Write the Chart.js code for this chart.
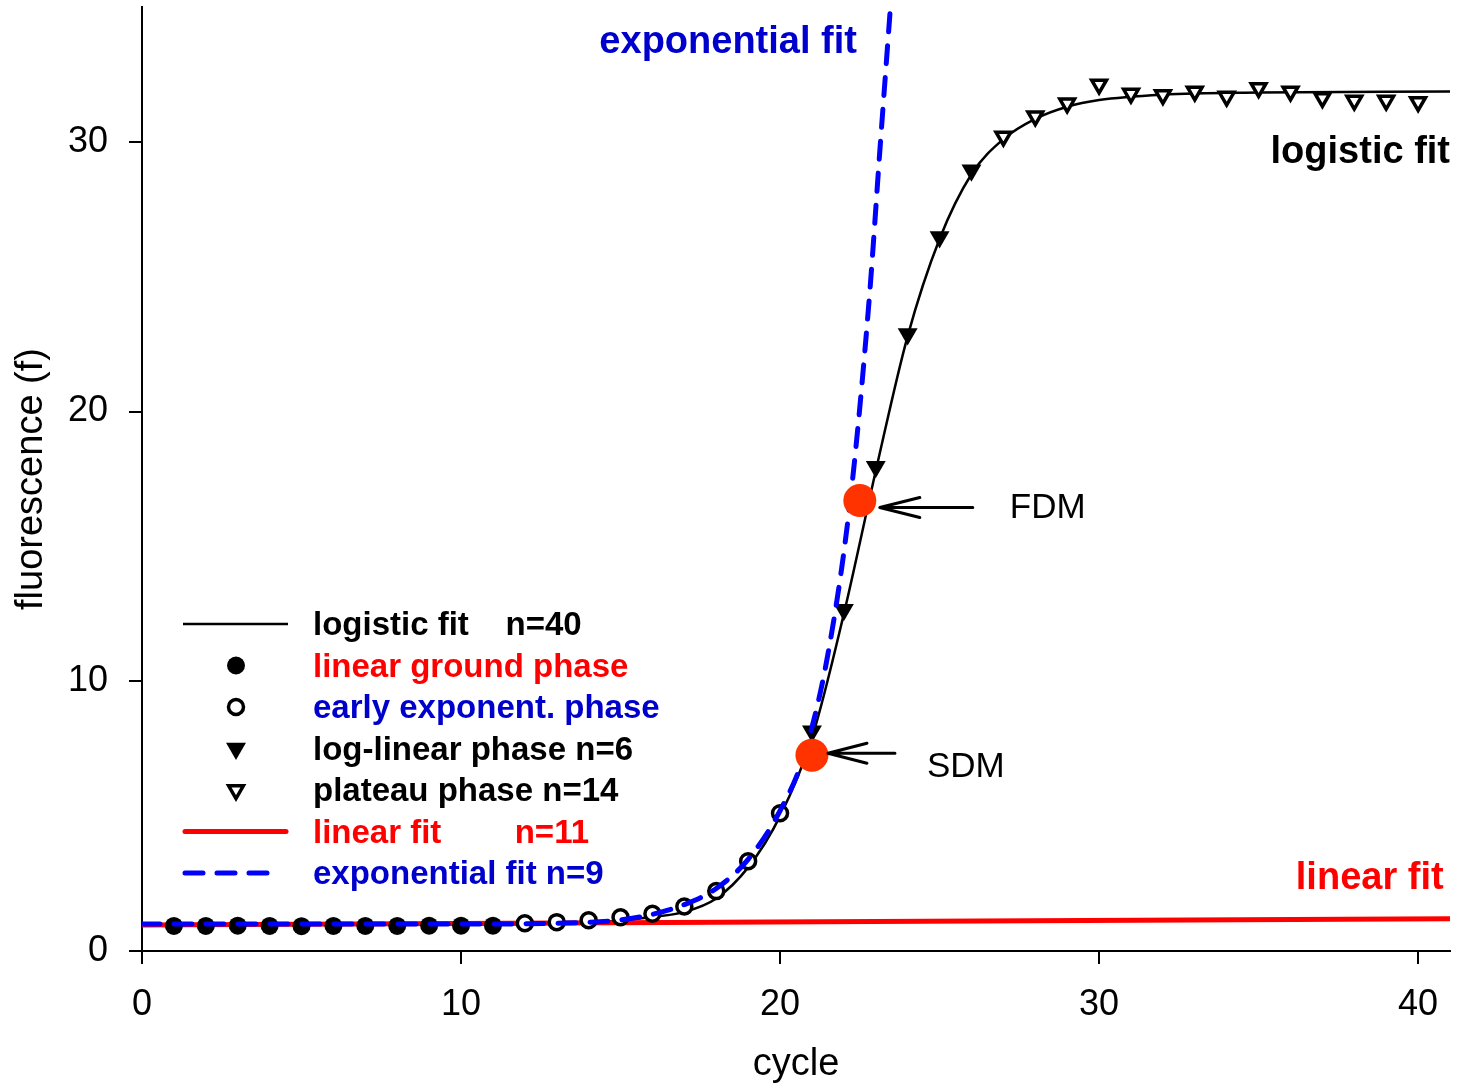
<!DOCTYPE html>
<html>
<head>
<meta charset="utf-8">
<script src="https://cdn.jsdelivr.net/npm/chart.js@4.4.1/dist/chart.umd.min.js"></script>
<style>
  html, body { margin: 0; padding: 0; background: #ffffff; }
  #wrap { width: 1460px; height: 1083px; position: relative; }
</style>
</head>
<body>
<div id="wrap"><canvas id="c" width="1460" height="1083"></canvas></div>
<script>
// ---------------- data ----------------
const cyclesGround = [1, 2, 3, 4, 5, 6, 7, 8, 9, 10, 11];
const fluorGround = [0.93, 0.93, 0.94, 0.93, 0.92, 0.93, 0.93, 0.93, 0.94, 0.94, 0.94];

const cyclesEarly = [12, 13, 14, 15, 16, 17, 18, 19, 20];
const fluorEarly = [1.03, 1.07, 1.14, 1.25, 1.38, 1.65, 2.22, 3.33, 5.11];

const cyclesLogLinear = [21, 22, 23, 24, 25, 26];
const fluorLogLinear = [8.15, 12.65, 17.95, 22.88, 26.47, 28.95];

const cyclesPlateau = [27, 28, 29, 30, 31, 32, 33, 34, 35, 36, 37, 38, 39, 40];
const fluorPlateau = [30.2, 30.95, 31.43, 32.13, 31.79, 31.74, 31.87, 31.68, 32.0, 31.87, 31.63, 31.53, 31.53, 31.48];

// fitted curves
const logisticFitX = [0, 10, 14, 15, 16, 17, 18, 19, 20, 21, 22, 23, 24, 25, 26, 27, 28, 29, 30, 32, 35, 41];
const logisticFitY = [0.97, 0.98, 1.05, 1.13, 1.26, 1.45, 1.95, 3.1, 5.0, 7.9, 12.5, 17.8, 22.8, 26.4, 28.8, 30.1, 30.85, 31.3, 31.55, 31.75, 31.83, 31.87];

const linearFitX = [0, 41];
const linearFitY = [0.96, 1.2];

const expFitX = [0, 10, 13, 15, 16, 17, 18, 19, 20, 20.75, 21.5, 22.2, 22.79, 23.13, 23.46];
const expFitY = [1.0, 1.0, 1.03, 1.15, 1.36, 1.72, 2.32, 3.4, 5.2, 7.26, 11.0, 16.7, 24.1, 29.7, 35.0];

// derivative-maximum points
const markerNames = ['FDM', 'SDM'];
const markerX = [22.5, 21.0];
const markerY = [16.7, 7.26];

// axis ticks
const xTicks = [0, 10, 20, 30, 40];
const yTicks = [0, 10, 20, 30];

// in-plot annotation texts (anchored at data coordinates, right aligned)
const annotationTexts = ['exponential fit', 'logistic fit', 'linear fit'];
const annotationX = [22.41, 41.0, 40.8];
const annotationY = [33.3, 29.2, 2.3];

// legend texts
const legendLabels = [
  'logistic fit    n=40',
  'linear ground phase',
  'early exponent. phase',
  'log-linear phase n=6',
  'plateau phase n=14',
  'linear fit        n=11',
  'exponential fit n=9'
];

// ---------------- styles ----------------
const FONT = "'Liberation Sans', Arial, Helvetica, sans-serif";
const RED = '#ff0000';
const BLUE = '#0000ff';
const BLUE_TEXT = '#0000cc';
const DOT = '#ff3300';
const annotationColors = [BLUE_TEXT, '#000000', RED];
const legendColors = ['#000000', RED, BLUE_TEXT, '#000000', '#000000', RED, BLUE_TEXT];
const legendSymbols = ['line', 'filledCircle', 'openCircle', 'filledTri', 'openTri', 'redLine', 'dashLine'];
const arrowStyle = [
  { gap: 20, len: 93, dy: 7, headW: 40, headH: 10, textGap: 37, textDy: 10 },
  { gap: 16, len: 67, dy: -2, headW: 39, headH: 10, textGap: 32, textDy: 24 }
];
const SZ = { filledCircle: 9, openCircle: 7.5, openCircleBorder: 3.5, filledTri: 11.5, openTri: 8.5, openTriBorder: 3.5 };

function zip(xs, ys) { return xs.map((v, i) => ({ x: v, y: ys[i] })); }

Chart.defaults.font.family = FONT;
Chart.defaults.color = '#000';

function drawDownTri(ctx, x, y, r) {
  ctx.beginPath();
  ctx.moveTo(x, y + r);
  ctx.lineTo(x - r * 0.866, y - r * 0.5);
  ctx.lineTo(x + r * 0.866, y - r * 0.5);
  ctx.closePath();
}

const overlay = {
  id: 'overlay',
  afterDatasetsDraw(chart) {
    const { ctx, chartArea, scales } = chart;
    const xs = scales.x, ys = scales.y;
    ctx.save();

    // arrows + FDM / SDM labels
    markerNames.forEach((name, i) => {
      const s = arrowStyle[i];
      const px = xs.getPixelForValue(markerX[i]);
      const py = ys.getPixelForValue(markerY[i]);
      const ty = py + s.dy;
      const tip = px + s.gap, tail = tip + s.len;
      ctx.strokeStyle = '#000';
      ctx.lineWidth = 3;
      ctx.lineCap = 'round';
      ctx.lineJoin = 'round';
      ctx.setLineDash([]);
      ctx.beginPath();
      ctx.moveTo(tail, ty); ctx.lineTo(tip, ty);
      ctx.moveTo(tip + s.headW, ty - s.headH); ctx.lineTo(tip, ty); ctx.lineTo(tip + s.headW, ty + s.headH);
      ctx.stroke();
      ctx.font = '35px ' + FONT;
      ctx.fillStyle = '#000';
      ctx.textAlign = 'left';
      ctx.textBaseline = 'alphabetic';
      ctx.fillText(name, tail + s.textGap, ty + s.textDy);
    });

    // annotations
    ctx.font = 'bold 38px ' + FONT;
    ctx.textAlign = 'right';
    ctx.textBaseline = 'alphabetic';
    annotationTexts.forEach((t, i) => {
      ctx.fillStyle = annotationColors[i];
      ctx.fillText(t, xs.getPixelForValue(annotationX[i]), ys.getPixelForValue(annotationY[i]));
    });

    // legend
    const x0 = chartArea.left + 41, x1 = chartArea.left + 146;
    const mx = chartArea.left + 94, tx = chartArea.left + 171;
    const y0 = chartArea.bottom - 327, dy = 41.5;
    legendLabels.forEach((label, i) => {
      const yy = y0 + i * dy;
      const sym = legendSymbols[i];
      ctx.setLineDash([]);
      ctx.lineCap = 'round';
      if (sym === 'line') {
        ctx.strokeStyle = '#000'; ctx.lineWidth = 2.5; ctx.lineCap = 'butt';
        ctx.beginPath(); ctx.moveTo(x0, yy); ctx.lineTo(x1, yy); ctx.stroke();
      } else if (sym === 'redLine') {
        ctx.strokeStyle = RED; ctx.lineWidth = 5;
        ctx.beginPath(); ctx.moveTo(x0 + 2, yy); ctx.lineTo(x1 - 2, yy); ctx.stroke();
      } else if (sym === 'dashLine') {
        ctx.strokeStyle = BLUE; ctx.lineWidth = 5; ctx.setLineDash([18, 14]);
        ctx.beginPath(); ctx.moveTo(x0 + 2, yy); ctx.lineTo(x1 - 12, yy); ctx.stroke();
        ctx.setLineDash([]);
      } else if (sym === 'filledCircle') {
        ctx.fillStyle = '#000';
        ctx.beginPath(); ctx.arc(mx, yy, SZ.filledCircle, 0, Math.PI * 2); ctx.fill();
      } else if (sym === 'openCircle') {
        ctx.fillStyle = '#fff'; ctx.strokeStyle = '#000'; ctx.lineWidth = SZ.openCircleBorder;
        ctx.beginPath(); ctx.arc(mx, yy, SZ.openCircle, 0, Math.PI * 2); ctx.fill(); ctx.stroke();
      } else if (sym === 'filledTri') {
        ctx.fillStyle = '#000';
        drawDownTri(ctx, mx, yy, SZ.filledTri); ctx.fill();
      } else if (sym === 'openTri') {
        ctx.fillStyle = '#fff'; ctx.strokeStyle = '#000'; ctx.lineWidth = SZ.openTriBorder; ctx.lineJoin = 'miter';
        drawDownTri(ctx, mx, yy, SZ.openTri); ctx.fill(); ctx.stroke();
      }
      ctx.font = 'bold 33px ' + FONT;
      ctx.fillStyle = legendColors[i];
      ctx.textAlign = 'left';
      ctx.textBaseline = 'alphabetic';
      ctx.fillText(label, tx, yy + 11);
    });

    ctx.restore();
  }
};

const lineCommon = { showLine: true, pointRadius: 0, pointHoverRadius: 0, fill: false };

new Chart(document.getElementById('c'), {
  type: 'scatter',
  data: {
    datasets: [
      Object.assign({
        label: 'logistic fit', data: zip(logisticFitX, logisticFitY),
        borderColor: '#000', borderWidth: 2.5, cubicInterpolationMode: 'monotone', order: 7
      }, lineCommon),
      Object.assign({
        label: 'linear fit', data: zip(linearFitX, linearFitY),
        borderColor: RED, borderWidth: 5, order: 6
      }, lineCommon),
      {
        label: 'linear ground phase', data: zip(cyclesGround, fluorGround),
        pointStyle: 'circle', pointRadius: SZ.filledCircle, backgroundColor: '#000', borderWidth: 0, order: 5
      },
      {
        label: 'early exponent. phase', data: zip(cyclesEarly, fluorEarly),
        pointStyle: 'circle', pointRadius: SZ.openCircle, backgroundColor: '#fff', borderColor: '#000', borderWidth: SZ.openCircleBorder, order: 4
      },
      {
        label: 'log-linear phase', data: zip(cyclesLogLinear, fluorLogLinear),
        pointStyle: 'triangle', rotation: 180, pointRadius: SZ.filledTri, backgroundColor: '#000', borderColor: '#000', borderWidth: 0, order: 3
      },
      {
        label: 'plateau phase', data: zip(cyclesPlateau, fluorPlateau),
        pointStyle: 'triangle', rotation: 180, pointRadius: SZ.openTri, backgroundColor: '#fff', borderColor: '#000', borderWidth: SZ.openTriBorder, order: 2
      },
      Object.assign({
        label: 'exponential fit', data: zip(expFitX, expFitY),
        borderColor: BLUE, borderWidth: 5, borderDash: [18, 14], borderCapStyle: 'round',
        cubicInterpolationMode: 'monotone', order: 1
      }, lineCommon),
      {
        label: 'FDM / SDM', data: zip(markerX, markerY),
        pointStyle: 'circle', pointRadius: 16.5, backgroundColor: DOT, borderWidth: 0, order: 0
      }
    ]
  },
  options: {
    responsive: false,
    animation: false,
    devicePixelRatio: 1,
    events: [],
    layout: { autoPadding: false, padding: { top: 7, right: 10, left: 0, bottom: 0 } },
    plugins: { legend: { display: false }, tooltip: { enabled: false } },
    scales: {
      x: {
        type: 'linear', position: 'bottom', min: 0, max: 41,
        afterBuildTicks(scale) { scale.ticks = xTicks.map(v => ({ value: v })); },
        afterFit(scale) { scale.height = 132; scale.paddingLeft = 0; scale.paddingRight = 0; },
        ticks: { color: '#000', font: { size: 36 }, padding: 19, maxRotation: 0, autoSkip: false },
        grid: { display: true, drawOnChartArea: false, drawTicks: true, tickLength: 13, color: '#000', lineWidth: 2 },
        border: { display: true, color: '#000', width: 2 },
        title: { display: true, text: 'cycle', color: '#000', font: { size: 38 }, padding: { top: 0, bottom: -4 } }
      },
      y: {
        type: 'linear', position: 'left', min: 0, max: 35,
        afterBuildTicks(scale) { scale.ticks = yTicks.map(v => ({ value: v })); },
        afterFit(scale) { scale.width = 142; scale.paddingTop = 0; scale.paddingBottom = 0; },
        ticks: { color: '#000', font: { size: 36 }, padding: 21, autoSkip: false },
        grid: { display: true, drawOnChartArea: false, drawTicks: true, tickLength: 13, color: '#000', lineWidth: 2 },
        border: { display: true, color: '#000', width: 2 },
        title: { display: true, text: 'fluorescence (f)', color: '#000', font: { size: 38 }, padding: { top: 9, bottom: 0 } }
      }
    }
  },
  plugins: [overlay]
});
</script>
</body>
</html>
